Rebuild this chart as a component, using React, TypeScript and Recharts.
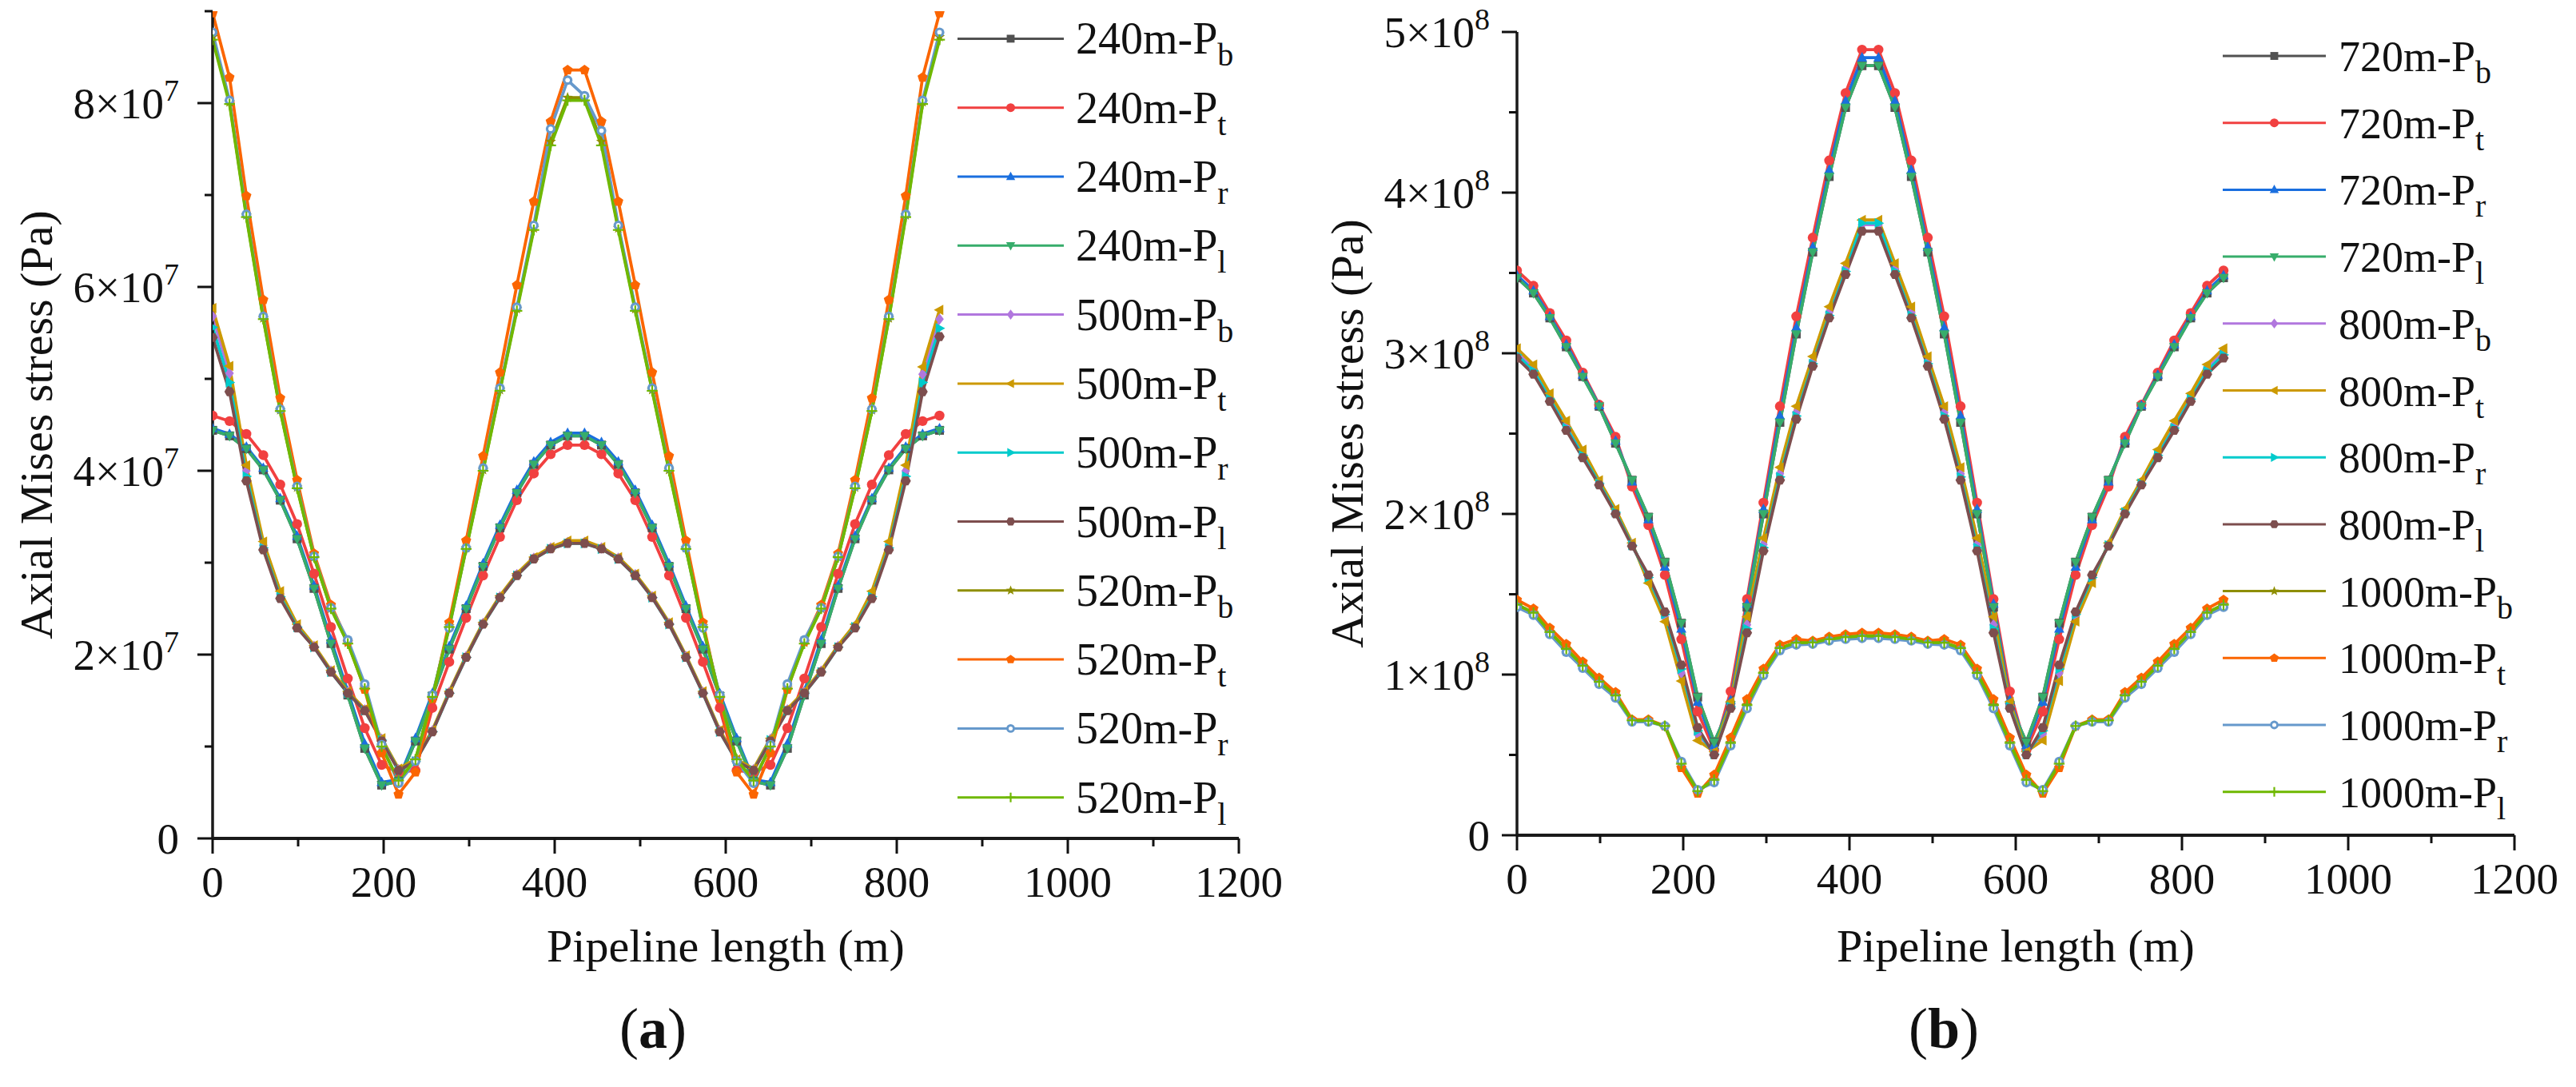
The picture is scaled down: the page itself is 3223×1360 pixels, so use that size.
import React from 'react';
import { LineChart, Line, XAxis, YAxis, Legend } from 'recharts';

const FONT = "'Liberation Serif', 'Times New Roman', Times, serif";

// ---------- shared x positions (m) ----------
const X_POS = [0, 19.8, 39.5, 59.3, 79.1, 98.8, 118.6, 138.4, 158.1, 177.9, 197.7, 217.4, 237.2, 257.0, 276.7, 296.5, 316.3, 336.0, 355.8, 375.6, 395.3, 415.1, 434.9, 454.7, 474.4, 494.2, 514.0, 533.7, 553.5, 573.3, 593.0, 612.8, 632.6, 652.3, 672.1, 691.9, 711.6, 731.4, 751.2, 770.9, 790.7, 810.5, 830.2, 850.0];
const X_TICKS = [0, 100, 200, 300, 400, 500, 600, 700, 800, 900, 1000, 1100, 1200];

// ---------- panel (a) values, MPa ----------
const A_240_B = [44.4, 43.8, 42.4, 40.1, 36.8, 32.6, 27.2, 21.2, 15.6, 9.8, 5.8, 6.2, 10.6, 15.5, 20.6, 25.0, 29.6, 33.8, 37.6, 40.7, 42.8, 43.8, 43.8, 42.8, 40.7, 37.6, 33.8, 29.6, 25.0, 20.6, 15.5, 10.6, 6.2, 5.8, 9.8, 15.6, 21.2, 27.2, 32.6, 36.8, 40.1, 42.4, 43.8, 44.4];
const A_240_T = [46.0, 45.4, 44.0, 41.7, 38.5, 34.2, 28.8, 23.0, 17.4, 12.0, 8.0, 7.2, 7.4, 14.2, 19.2, 24.0, 28.6, 32.8, 36.8, 39.7, 41.8, 42.8, 42.8, 41.8, 39.7, 36.8, 32.8, 28.6, 24.0, 19.2, 14.2, 7.4, 7.2, 8.0, 12.0, 17.4, 23.0, 28.8, 34.2, 38.5, 41.7, 44.0, 45.4, 46.0];
const A_240_R = [44.6, 44.0, 42.6, 40.3, 37.0, 32.9, 27.5, 21.6, 16.0, 10.3, 6.1, 6.4, 10.9, 15.8, 20.9, 25.3, 29.9, 34.1, 37.9, 41.0, 43.1, 44.1, 44.1, 43.1, 41.0, 37.9, 34.1, 29.9, 25.3, 20.9, 15.8, 10.9, 6.4, 6.1, 10.3, 16.0, 21.6, 27.5, 32.9, 37.0, 40.3, 42.6, 44.0, 44.6];
const A_240_L = [44.4, 43.8, 42.4, 40.1, 36.8, 32.6, 27.2, 21.2, 15.6, 9.8, 5.8, 6.2, 10.6, 15.5, 20.6, 25.0, 29.6, 33.8, 37.6, 40.7, 42.8, 43.8, 43.8, 42.8, 40.7, 37.6, 33.8, 29.6, 25.0, 20.6, 15.5, 10.6, 6.2, 5.8, 9.8, 15.6, 21.2, 27.2, 32.6, 36.8, 40.1, 42.4, 43.8, 44.4];
const A_500_B = [56.8, 50.6, 40.0, 31.9, 26.6, 23.1, 20.9, 18.2, 15.9, 14.0, 10.8, 7.5, 8.5, 11.7, 15.9, 19.8, 23.4, 26.3, 28.7, 30.5, 31.6, 32.2, 32.2, 31.6, 30.5, 28.7, 26.3, 23.4, 19.8, 15.9, 11.7, 8.5, 7.5, 10.8, 14.0, 15.9, 18.2, 20.9, 23.1, 26.6, 31.9, 40.0, 50.5, 56.5];
const A_500_T = [57.7, 51.4, 40.6, 32.3, 26.9, 23.3, 21.0, 18.3, 16.0, 14.1, 10.9, 7.6, 8.6, 11.8, 16.0, 19.9, 23.5, 26.4, 28.8, 30.6, 31.7, 32.4, 32.4, 31.7, 30.6, 28.8, 26.4, 23.5, 19.9, 16.0, 11.8, 8.6, 7.6, 10.9, 14.1, 16.0, 18.3, 21.0, 23.3, 26.9, 32.3, 40.6, 51.3, 57.5];
const A_500_R = [55.6, 49.6, 39.4, 31.6, 26.3, 23.0, 20.8, 18.1, 15.8, 13.9, 10.7, 7.4, 8.4, 11.6, 15.8, 19.7, 23.3, 26.2, 28.6, 30.4, 31.5, 32.1, 32.1, 31.5, 30.4, 28.6, 26.2, 23.3, 19.7, 15.8, 11.6, 8.4, 7.4, 10.7, 13.9, 15.8, 18.1, 20.8, 23.0, 26.3, 31.6, 39.4, 49.6, 55.5];
const A_500_L = [54.5, 48.6, 38.9, 31.4, 26.1, 22.9, 20.8, 18.1, 15.8, 13.9, 10.6, 7.4, 8.4, 11.6, 15.8, 19.7, 23.3, 26.2, 28.6, 30.4, 31.5, 32.1, 32.1, 31.5, 30.4, 28.6, 26.2, 23.3, 19.7, 15.8, 11.6, 8.4, 7.4, 10.6, 13.9, 15.8, 18.1, 20.8, 22.9, 26.1, 31.4, 38.9, 48.6, 54.6];
const A_520_B = [87.2, 80.1, 67.8, 56.6, 46.6, 38.2, 30.6, 25.0, 21.3, 16.4, 10.1, 6.2, 8.5, 15.4, 23.1, 31.6, 40.1, 48.8, 57.6, 66.4, 75.8, 80.6, 80.6, 75.8, 66.4, 57.6, 48.8, 40.1, 31.6, 23.1, 15.4, 8.5, 6.2, 10.1, 16.4, 21.3, 25.0, 30.6, 38.2, 46.6, 56.6, 67.8, 80.1, 87.2];
const A_520_T = [89.8, 82.8, 69.9, 58.6, 47.9, 39.0, 31.0, 25.4, 21.4, 16.2, 9.3, 4.8, 7.2, 15.2, 23.5, 32.4, 41.6, 50.7, 60.2, 69.3, 78.0, 83.6, 83.6, 78.0, 69.3, 60.2, 50.7, 41.6, 32.4, 23.5, 15.2, 7.2, 4.8, 9.3, 16.2, 21.4, 25.4, 31.0, 39.0, 47.9, 58.6, 69.9, 82.8, 89.8];
const A_520_R = [87.7, 80.3, 67.9, 56.8, 46.7, 38.3, 30.7, 25.1, 21.6, 16.8, 10.2, 6.0, 8.4, 15.6, 22.9, 31.6, 40.3, 49.0, 57.8, 66.7, 77.2, 82.5, 80.8, 77.0, 66.7, 57.8, 49.0, 40.3, 31.6, 22.9, 15.6, 8.4, 6.0, 10.2, 16.8, 21.6, 25.1, 30.7, 38.3, 46.7, 56.8, 67.9, 80.3, 87.7];
const A_520_L = [86.9, 79.9, 67.6, 56.5, 46.5, 38.1, 30.6, 25.0, 21.2, 16.3, 10.0, 6.3, 8.6, 15.4, 23.0, 31.5, 40.0, 48.7, 57.4, 66.2, 75.4, 80.3, 80.3, 75.4, 66.2, 57.4, 48.7, 40.0, 31.5, 23.0, 15.4, 8.6, 6.3, 10.0, 16.3, 21.2, 25.0, 30.6, 38.1, 46.5, 56.5, 67.6, 79.9, 86.9];

// ---------- panel (b) values, MPa ----------
const B_720_B = [347.0, 337.5, 322.0, 304.0, 285.5, 267.0, 244.0, 221.0, 198.0, 170.0, 132.0, 86.0, 58.0, 81.0, 142.0, 200.0, 257.0, 312.0, 363.0, 410.0, 453.0, 479.0, 479.0, 453.0, 410.0, 363.0, 312.0, 257.0, 200.0, 142.0, 81.0, 58.0, 86.0, 132.0, 170.0, 198.0, 221.0, 244.0, 267.0, 285.5, 304.0, 322.0, 337.5, 347.0];
const B_720_T = [351.5, 342.0, 325.0, 308.0, 288.0, 268.0, 248.0, 217.0, 193.0, 162.0, 122.0, 77.0, 53.0, 89.5, 147.0, 207.0, 267.0, 323.0, 372.0, 420.0, 462.0, 489.0, 489.0, 462.0, 420.0, 372.0, 323.0, 267.0, 207.0, 147.0, 89.5, 53.0, 77.0, 122.0, 162.0, 193.0, 217.0, 248.0, 268.0, 288.0, 308.0, 325.0, 342.0, 351.5];
const B_720_R = [348.5, 339.0, 323.0, 305.5, 286.5, 267.5, 245.5, 220.0, 196.5, 167.0, 128.5, 83.0, 56.0, 84.0, 144.0, 203.0, 261.0, 316.0, 366.0, 414.0, 457.0, 484.0, 484.0, 457.0, 414.0, 366.0, 316.0, 261.0, 203.0, 144.0, 84.0, 56.0, 83.0, 128.5, 167.0, 196.5, 220.0, 245.5, 267.5, 286.5, 305.5, 323.0, 339.0, 348.5];
const B_720_L = [347.0, 337.5, 322.0, 304.0, 285.5, 267.0, 244.0, 221.0, 198.0, 170.0, 132.0, 86.0, 58.0, 81.0, 142.0, 200.0, 257.0, 312.0, 363.0, 410.0, 453.0, 479.0, 479.0, 453.0, 410.0, 363.0, 312.0, 257.0, 200.0, 142.0, 81.0, 58.0, 86.0, 132.0, 170.0, 198.0, 221.0, 244.0, 267.0, 285.5, 304.0, 322.0, 337.5, 347.0];
const B_800_B = [300.5, 290.5, 272.5, 255.0, 237.5, 219.5, 201.5, 181.0, 159.5, 136.0, 101.0, 63.0, 51.0, 81.0, 131.0, 181.0, 225.0, 263.0, 295.0, 325.5, 352.5, 380.0, 380.0, 352.5, 325.5, 295.0, 263.0, 225.0, 181.0, 131.0, 81.0, 51.0, 63.0, 101.0, 136.0, 159.5, 181.0, 201.5, 219.5, 237.5, 255.0, 272.5, 290.5, 300.5];
const B_800_T = [303.0, 293.0, 275.0, 258.0, 240.0, 221.0, 203.0, 182.0, 157.0, 133.0, 96.0, 59.0, 52.0, 83.0, 136.0, 185.0, 229.0, 267.0, 298.0, 329.0, 356.0, 383.0, 383.0, 356.0, 329.0, 298.0, 267.0, 229.0, 185.0, 136.0, 83.0, 52.0, 59.0, 96.0, 133.0, 157.0, 182.0, 203.0, 221.0, 240.0, 258.0, 275.0, 293.0, 303.0];
const B_800_R = [299.0, 289.0, 271.5, 253.5, 236.5, 219.0, 201.0, 180.5, 160.5, 137.5, 103.5, 65.0, 50.5, 80.0, 128.5, 179.0, 223.0, 261.0, 293.5, 323.5, 351.0, 381.0, 381.0, 351.0, 323.5, 293.5, 261.0, 223.0, 179.0, 128.5, 80.0, 50.5, 65.0, 103.5, 137.5, 160.5, 180.5, 201.0, 219.0, 236.5, 253.5, 271.5, 289.0, 299.0];
const B_800_L = [297.0, 287.0, 270.0, 252.0, 235.0, 218.0, 200.0, 180.0, 162.0, 139.0, 106.0, 67.0, 50.0, 79.0, 126.0, 177.0, 221.0, 259.0, 292.0, 322.0, 349.0, 376.0, 376.0, 349.0, 322.0, 292.0, 259.0, 221.0, 177.0, 126.0, 79.0, 50.0, 67.0, 106.0, 139.0, 162.0, 180.0, 200.0, 218.0, 235.0, 252.0, 270.0, 287.0, 297.0];
const B_1000_B = [143.5, 138.5, 126.5, 116.0, 105.5, 95.5, 87.0, 71.5, 71.2, 68.0, 44.5, 27.5, 34.5, 57.5, 81.0, 101.0, 116.5, 119.8, 120.0, 122.0, 123.3, 124.0, 124.0, 123.3, 122.0, 120.0, 119.8, 116.5, 101.0, 81.0, 57.5, 34.5, 27.5, 44.5, 68.0, 71.2, 71.5, 87.0, 95.5, 105.5, 116.0, 126.5, 138.5, 143.5];
const B_1000_T = [146.5, 141.0, 129.0, 119.0, 108.0, 98.0, 89.0, 72.0, 72.0, 68.0, 42.0, 26.0, 37.6, 60.7, 84.6, 103.6, 118.5, 122.0, 121.0, 123.5, 125.0, 126.0, 126.0, 125.0, 123.5, 121.0, 122.0, 118.5, 103.6, 84.6, 60.7, 37.6, 26.0, 42.0, 68.0, 72.0, 72.0, 89.0, 98.0, 108.0, 119.0, 129.0, 141.0, 146.5];
const B_1000_R = [142.0, 137.0, 125.0, 114.0, 104.0, 94.0, 85.5, 70.6, 70.6, 68.0, 45.9, 28.3, 32.8, 55.7, 78.9, 99.5, 115.0, 118.5, 119.0, 121.0, 122.0, 122.6, 122.6, 122.0, 121.0, 119.0, 118.5, 115.0, 99.5, 78.9, 55.7, 32.8, 28.3, 45.9, 68.0, 70.6, 70.6, 85.5, 94.0, 104.0, 114.0, 125.0, 137.0, 142.0];
const B_1000_L = [143.5, 138.5, 126.5, 116.0, 105.5, 95.5, 87.0, 71.5, 71.2, 68.0, 44.5, 27.5, 34.5, 57.5, 81.0, 101.0, 116.5, 119.8, 120.0, 122.0, 123.3, 124.0, 124.0, 123.3, 122.0, 120.0, 119.8, 116.5, 101.0, 81.0, 57.5, 34.5, 27.5, 44.5, 68.0, 71.2, 71.5, 87.0, 95.5, 105.5, 116.0, 126.5, 138.5, 143.5];

// ---------- series meta ----------
const COLORS = ['#515151', '#F14040', '#1A6FDF', '#37AD6B', '#B177DE', '#CC9900', '#00CBCC', '#7D4E4E', '#8E8E00', '#FB6501', '#6699CC', '#6FB802'];
const SHAPES = ['square', 'circle', 'up', 'down', 'diamond', 'left', 'right', 'hex', 'star', 'pent', 'ring', 'plus'];
const SUBS = ['b', 't', 'r', 'l'];
const GROUPS_A = ['240m', '500m', '520m'];
const GROUPS_B = ['720m', '800m', '1000m'];
const VALUES_A = [A_240_B, A_240_T, A_240_R, A_240_L, A_500_B, A_500_T, A_500_R, A_500_L, A_520_B, A_520_T, A_520_R, A_520_L];
const VALUES_B = [B_720_B, B_720_T, B_720_R, B_720_L, B_800_B, B_800_T, B_800_R, B_800_L, B_1000_B, B_1000_T, B_1000_R, B_1000_L];
const Y_TICKS_A = [0, 1e7, 2e7, 3e7, 4e7, 5e7, 6e7, 7e7, 8e7, 9e7];
const Y_TICKS_B = [0, 0.5e8, 1e8, 1.5e8, 2e8, 2.5e8, 3e8, 3.5e8, 4e8, 4.5e8, 5e8];

function buildRows(values: number[][]) {
  return X_POS.map((x, i) => {
    const row: any = { x };
    values.forEach((arr, k) => { row['s' + k] = arr[i] * 1e6; });
    return row;
  });
}
function buildSeries(groups: string[]) {
  return COLORS.map((color, k) => ({
    key: 's' + k,
    color,
    shape: SHAPES[k],
    group: groups[Math.floor(k / 4)],
    sub: SUBS[k % 4],
  }));
}

// ---------- marker glyphs ----------
function Marker({ shape, cx, cy, color, s }: any) {
  const r = s / 2;
  const poly = (pts: number[][]) => (
    <polygon points={pts.map((p) => `${cx + p[0] * r},${cy + p[1] * r}`).join(' ')} fill={color} />
  );
  const ring = (n: number, rot: number, rr: number[]) => {
    const pts: number[][] = [];
    for (let i = 0; i < n; i++) {
      const a = rot + (i * 2 * Math.PI) / n;
      const q = rr[i % rr.length];
      pts.push([Math.cos(a) * q, Math.sin(a) * q]);
    }
    return poly(pts);
  };
  switch (shape) {
    case 'square':
      return <rect x={cx - r * 0.82} y={cy - r * 0.82} width={r * 1.64} height={r * 1.64} fill={color} />;
    case 'circle':
      return <circle cx={cx} cy={cy} r={r * 0.92} fill={color} />;
    case 'up':
      return poly([[0, -1.05], [0.95, 0.7], [-0.95, 0.7]]);
    case 'down':
      return poly([[0, 1.05], [0.95, -0.7], [-0.95, -0.7]]);
    case 'diamond':
      return poly([[0, -1.05], [0.8, 0], [0, 1.05], [-0.8, 0]]);
    case 'left':
      return poly([[-1.05, 0], [0.7, -0.95], [0.7, 0.95]]);
    case 'right':
      return poly([[1.05, 0], [-0.7, -0.95], [-0.7, 0.95]]);
    case 'hex':
      return ring(6, 0, [0.95]);
    case 'star':
      return ring(10, -Math.PI / 2, [1.05, 0.45]);
    case 'pent':
      return ring(5, -Math.PI / 2, [0.98]);
    case 'ring':
      return (
        <g>
          <circle cx={cx} cy={cy} r={r * 0.9} fill={color} />
          <circle cx={cx} cy={cy} r={r * 0.42} fill="#ffffff" />
        </g>
      );
    case 'plus':
      return (
        <g stroke={color} strokeWidth={2.2}>
          <line x1={cx - r} x2={cx + r} y1={cy} y2={cy} />
          <line x1={cx} x2={cx} y1={cy - r} y2={cy + r} />
        </g>
      );
    default:
      return <circle cx={cx} cy={cy} r={r} fill={color} />;
  }
}

// ---------- panel configs (page coordinates) ----------
const PANEL_A = {
  name: 'a',
  left: 0,
  width: 1640,
  plot: { l: 266, t: 14, r: 1550, b: 1049 },
  yMax: 9e7,
  yTicks: Y_TICKS_A,
  majorStep: 2e7,
  yLabelGap: 42,
  yTitleX: 65,
  rows: buildRows(VALUES_A),
  series: buildSeries(GROUPS_A),
  legend: { left: 1190, lx1: 8, lx2: 141, tx: 156, y0: 48.4, dy: 86.3, fs: 56 },
  caption: { x: 817, text: 'a' },
};
const PANEL_B = {
  name: 'b',
  left: 1640,
  width: 1583,
  plot: { l: 1898, t: 40, r: 3146, b: 1045 },
  yMax: 5e8,
  yTicks: Y_TICKS_B,
  majorStep: 1e8,
  yLabelGap: 34,
  yTitleX: 1705,
  rows: buildRows(VALUES_B),
  series: buildSeries(GROUPS_B),
  legend: { left: 2770, lx1: 11, lx2: 140, tx: 156, y0: 70, dy: 83.7, fs: 54 },
  caption: { x: 2432, text: 'b' },
};

const TICK_FS = 55;
const TITLE_FS = 58;

function sciParts(v: number) {
  if (v === 0) return null;
  const e = Math.floor(Math.log10(v) + 1e-9);
  const m = Math.round(v / Math.pow(10, e));
  return { m, e };
}

function renderYTick(p: any, cfg: any) {
  const { x, y, payload } = p;
  const v = payload.value;
  const ratio = v / cfg.majorStep;
  const isMajor = Math.abs(ratio - Math.round(ratio)) < 1e-6;
  const len = isMajor ? 19 : 10;
  const parts = sciParts(v);
  return (
    <g>
      <line x1={x - len} x2={x} y1={y} y2={y} stroke="#111" strokeWidth={3} />
      {isMajor && (
        <text x={x - cfg.yLabelGap} y={y + 19} textAnchor="end" fontFamily={FONT} fontSize={TICK_FS} fill="#111">
          {parts ? (
            <>
              <tspan>{`${parts.m}×10`}</tspan>
              <tspan dy={-22} fontSize={38}>{parts.e}</tspan>
            </>
          ) : (
            '0'
          )}
        </text>
      )}
    </g>
  );
}

function renderXTick(p: any) {
  const { x, y, payload } = p;
  const v = payload.value;
  const isMajor = v % 200 === 0;
  const len = isMajor ? 19 : 10;
  return (
    <g>
      <line x1={x} x2={x} y1={y} y2={y + len} stroke="#111" strokeWidth={3} />
      {isMajor && (
        <text x={x} y={y + 73} textAnchor="middle" fontFamily={FONT} fontSize={TICK_FS} fill="#111">
          {String(v)}
        </text>
      )}
    </g>
  );
}

function XTitle({ tx, ty }: any) {
  return (
    <text x={tx} y={ty} textAnchor="middle" fontFamily={FONT} fontSize={TITLE_FS} fill="#111">
      Pipeline length (m)
    </text>
  );
}
function YTitle({ tx, ty }: any) {
  return (
    <text x={tx} y={ty} textAnchor="middle" fontFamily={FONT} fontSize={TITLE_FS} fill="#111" transform={`rotate(-90 ${tx} ${ty})`}>
      Axial Mises stress (Pa)
    </text>
  );
}

function LegendBox({ cfg }: any) {
  const L = cfg.legend;
  return (
    <svg width={430} height={1060} style={{ display: 'block', overflow: 'visible' }}>
      {cfg.series.map((s: any, k: number) => {
        const y = L.y0 + k * L.dy;
        return (
          <g key={s.key}>
            <line x1={L.lx1} x2={L.lx2} y1={y} y2={y} stroke={s.color} strokeWidth={3} />
            <Marker shape={s.shape} cx={(L.lx1 + L.lx2) / 2} cy={y} color={s.color} s={12} />
            <text x={L.tx} y={y + 19} fontFamily={FONT} fontSize={L.fs} fill="#111">
              {`${s.group}-P`}
              <tspan dy={15} fontSize={40}>{s.sub}</tspan>
            </text>
          </g>
        );
      })}
    </svg>
  );
}

function Panel({ cfg }: any) {
  const W = cfg.width;
  const H = 1360;
  const plotL = cfg.plot.l - cfg.left;
  const plotR = cfg.plot.r - cfg.left;
  const midX = (plotL + plotR) / 2;
  const midY = (cfg.plot.t + cfg.plot.b) / 2;
  return (
    <div style={{ position: 'absolute', left: cfg.left, top: 0, width: W, height: H }}>
      <LineChart width={W} height={H} data={cfg.rows} margin={{ top: cfg.plot.t, right: W - plotR, bottom: 0, left: 0 }}>
        <XAxis
          type="number"
          dataKey="x"
          domain={[0, 1200]}
          ticks={X_TICKS}
          interval={0}
          tickSize={0}
          tickMargin={0}
          tickLine={false}
          height={H - cfg.plot.b}
          axisLine={{ stroke: '#1a1a1a', strokeWidth: 4 }}
          tick={(p: any) => renderXTick(p)}
          allowDataOverflow
          label={<XTitle tx={midX} ty={1203} />}
        />
        <YAxis
          type="number"
          domain={[0, cfg.yMax]}
          ticks={cfg.yTicks}
          interval={0}
          tickSize={0}
          tickMargin={0}
          tickLine={false}
          width={plotL}
          axisLine={{ stroke: '#1a1a1a', strokeWidth: 3.5 }}
          tick={(p: any) => renderYTick(p, cfg)}
          allowDataOverflow
          label={<YTitle tx={cfg.yTitleX - cfg.left} ty={midY} />}
        />
        <Legend
          layout="vertical"
          align="center"
          verticalAlign="middle"
          wrapperStyle={{ left: cfg.legend.left - cfg.left, top: 0, width: 430, height: 1060 }}
          content={() => <LegendBox cfg={cfg} />}
        />
        {cfg.series.map((s: any) => (
          <Line
            key={s.key}
            type="linear"
            dataKey={s.key}
            name={`${s.group}-P${s.sub}`}
            stroke={s.color}
            strokeWidth={3.8}
            isAnimationActive={false}
            activeDot={false}
            dot={(p: any) =>
              p.cx == null || p.cy == null ? (
                <g key={`${s.key}-${p.index}`} />
              ) : (
                <Marker key={`${s.key}-${p.index}`} shape={s.shape} cx={p.cx} cy={p.cy} color={s.color} s={13.5} />
              )
            }
          />
        ))}
      </LineChart>
    </div>
  );
}

export default function App() {
  return (
    <div style={{ position: 'absolute', left: 0, top: 0, width: 3223, height: 1360, background: '#ffffff', overflow: 'hidden' }}>
      <Panel cfg={PANEL_A} />
      <Panel cfg={PANEL_B} />
      <svg width={3223} height={1360} style={{ position: 'absolute', left: 0, top: 0, pointerEvents: 'none' }}>
        {[PANEL_A, PANEL_B].map((c) => (
          <text key={c.name} x={c.caption.x} y={1311} textAnchor="middle" fontFamily={FONT} fontSize={72} fill="#111">
            (<tspan fontWeight="bold">{c.caption.text}</tspan>)
          </text>
        ))}
      </svg>
    </div>
  );
}
